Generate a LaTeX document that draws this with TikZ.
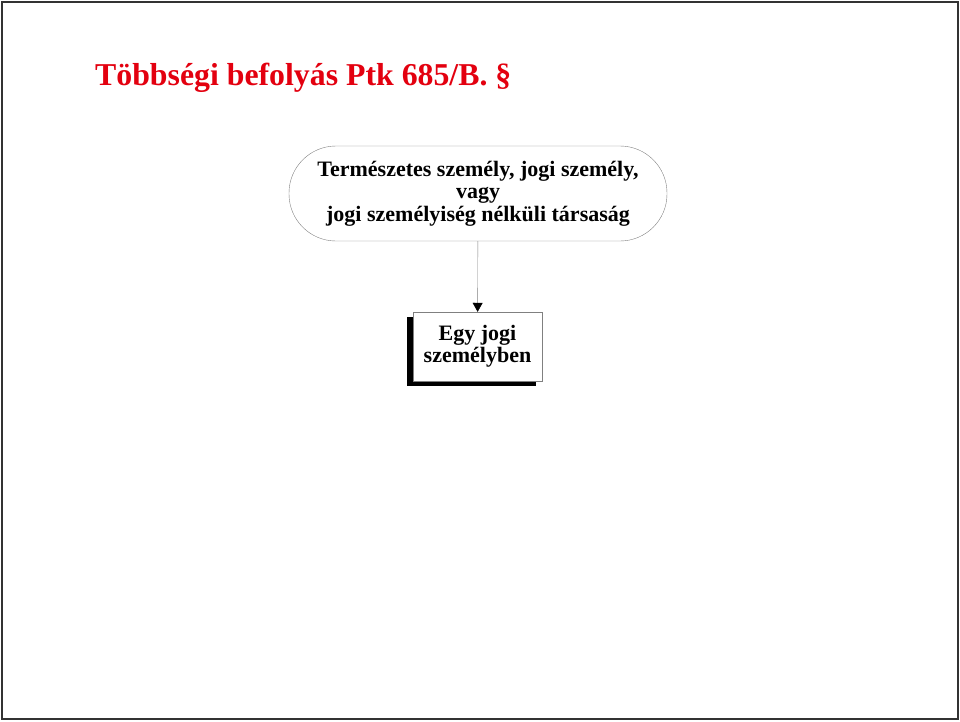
\documentclass[tikz,border=0pt]{standalone}
\usepackage{fontspec}
\setmainfont{Liberation Serif}
\usetikzlibrary{arrows.meta,positioning,shadows}
\definecolor{titlered}{HTML}{E3000F}
\definecolor{framegray}{HTML}{333333}
\definecolor{edgegray}{HTML}{808080}

\begin{document}
\begin{tikzpicture}[x=1pt,y=-1pt]
  % Styles
  \tikzset{
    frame/.style={draw=framegray, line width=2pt},
    title/.style={anchor=base west, text=titlered, font=\fontsize{31.8}{36}\selectfont\bfseries, inner sep=0pt},
    owner/.style={draw=edgegray, rounded corners=47pt, minimum width=378pt, minimum height=95pt, align=center, font=\fontsize{22}{22.5}\selectfont\bfseries, inner sep=0pt},
    target/.style={draw=edgegray, fill=white, minimum width=129pt, minimum height=69pt, align=center, font=\fontsize{22}{22}\selectfont\bfseries, inner sep=0pt,
      drop shadow={shadow xshift=-6pt, shadow yshift=-5pt, fill=black, opacity=1}},
    line/.style={-{Triangle[length=9pt,width=10pt,color=black]}, draw=edgegray, thin},
  }

  % Page frame
  \draw[frame] (2,2) rectangle (958,719);
  \useasboundingbox (0,0) rectangle (960,721);

  % Title
  \node[title] (head) at (95,85) {Többségi befolyás Ptk 685/B. §};

  % Nodes
  \node[owner] (owner) at (478,193.5) {Természetes személy, jogi személy,\\vagy\\jogi személyiség nélküli társaság};
  \node[target] (company) at (477.5,346.5) {Egy jogi\\személyben};

  % Edges
  \draw[line] (owner) -- (company);
\end{tikzpicture}
\end{document}
